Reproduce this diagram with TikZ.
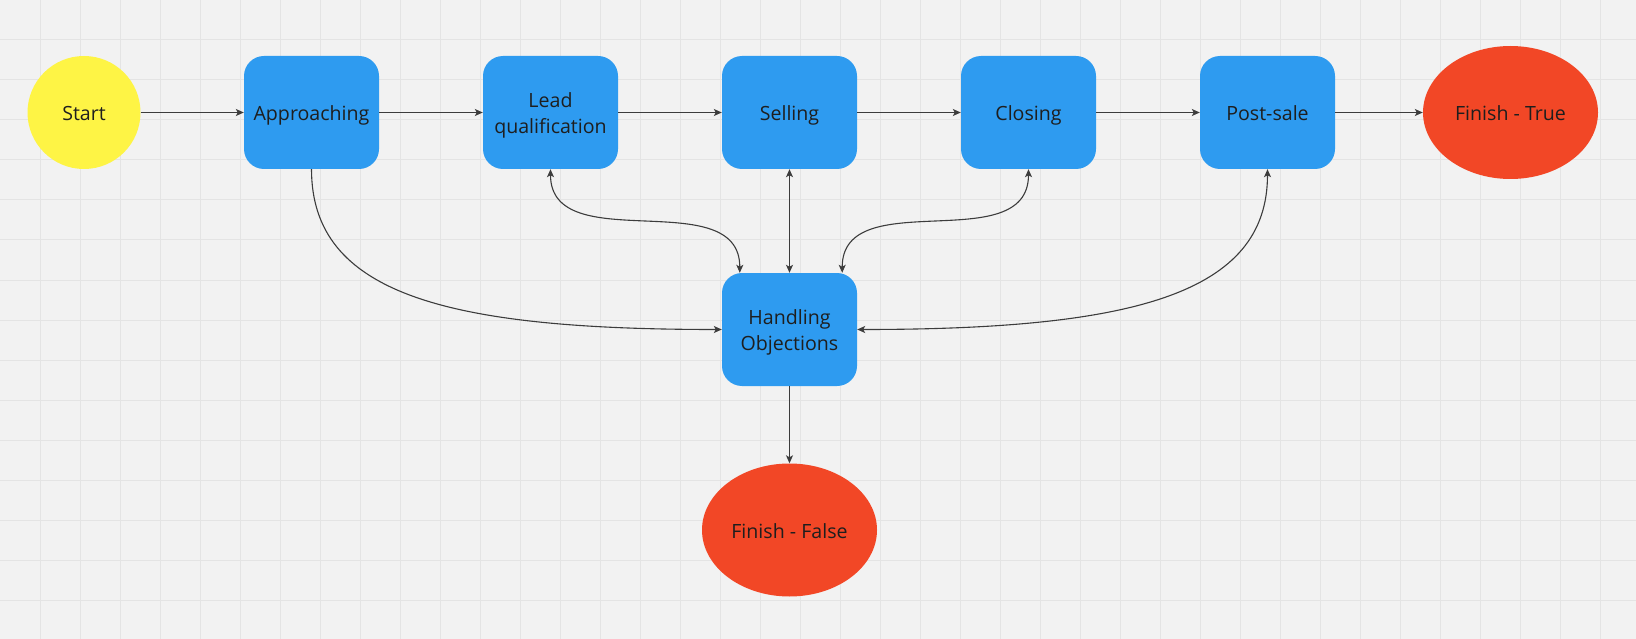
\documentclass[tikz,border=0pt]{standalone}
\usepackage{fontspec}
\setmainfont{Open Sans}
\usetikzlibrary{shapes.geometric,arrows.meta}

\definecolor{boardbg}{HTML}{F2F2F2}
\definecolor{boardgrid}{HTML}{E4E4E4}
\definecolor{stageblue}{HTML}{2E9BF0}
\definecolor{startyellow}{HTML}{FEF445}
\definecolor{finishred}{HTML}{F24726}
\definecolor{linkgray}{HTML}{3C3C3C}
\definecolor{labelink}{HTML}{1E1E1E}

\begin{document}
\begin{tikzpicture}[x=1pt, y=-1pt,
  every node/.style={text=labelink, font=\fontsize{19.6}{26.5}\selectfont, align=center, inner sep=0pt,
    text height=18pt, text depth=1.6pt},
  twoline/.style={text height=47pt, text depth={}},
  stage/.style={rectangle, rounded corners=20pt, fill=stageblue, minimum width=135pt, minimum height=113pt},
  startnode/.style={circle, fill=startyellow, minimum size=113pt},
  finish/.style={ellipse, fill=finishred, minimum width=175pt, minimum height=133pt},
  link/.style={draw=linkgray, line width=1.1pt, -{Stealth[length=8pt,width=7pt,inset=2pt]}},
  twolink/.style={link, {Stealth[length=8pt,width=7pt,inset=2pt]}-{Stealth[length=8pt,width=7pt,inset=2pt]}},
]

  % board
  \useasboundingbox (0,0) rectangle (1636,639);
  \fill[boardbg] (0,0) rectangle (1636,639);
  \foreach \gx in {40,80,...,1620} \draw[boardgrid, line width=1pt] (\gx,0) -- (\gx,639);
  \foreach \gy in {0,40,...,639} \draw[boardgrid, line width=1pt] (0,\gy) -- (1636,\gy);

  % stages
  \node[startnode] (start) at (84,112.5) {Start};
  \node[stage] (appr) at (311.5,112.5) {Approaching};
  \node[stage, twoline] (lead) at (550.5,112.5) {Lead\\qualification};
  \node[stage] (sell) at (789.5,112.5) {Selling};
  \node[stage] (close) at (1028.5,112.5) {Closing};
  \node[stage] (post) at (1267.5,112.5) {Post-sale};
  \node[finish] (win) at (1510.5,112.5) {Finish - True};
  \node[stage, twoline] (obj) at (789.5,329.5) {Handling\\Objections};
  \node[finish] (lose) at (789.5,530) {Finish - False};

  % main flow
  \draw[link] (start) -- (appr);
  \draw[link] (appr) -- (lead);
  \draw[link] (lead) -- (sell);
  \draw[link] (sell) -- (close);
  \draw[link] (close) -- (post);
  \draw[link] (post) -- (win);

  % objections
  \draw[link] (appr.south) .. controls +(0,125) and +(-275,0) .. (obj.west);
  \draw[twolink] (lead.south) .. controls +(0,90) and +(0,-90) .. ([xshift=18pt]obj.north west);
  \draw[twolink] (sell) -- (obj);
  \draw[twolink] (close.south) .. controls +(0,90) and +(0,-90) .. ([xshift=-15pt]obj.north east);
  \draw[twolink] (post.south) .. controls +(0,125) and +(275,0) .. (obj.east);
  \draw[link] (obj) -- (lose);

\end{tikzpicture}
\end{document}
